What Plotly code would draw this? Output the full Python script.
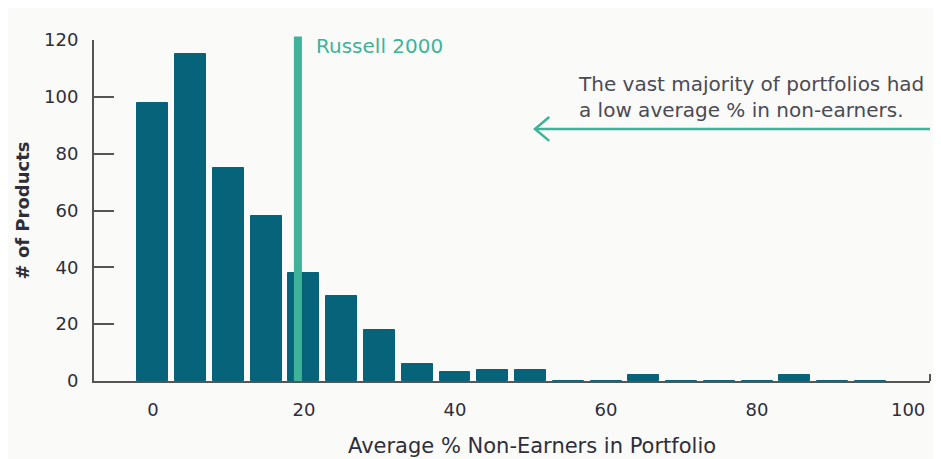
import plotly.graph_objects as go

# histogram bins (centre of each 5-point bin) and number of products
bin_centers = [0, 5, 10, 15, 20, 25, 30, 35, 40, 45, 50, 55, 60, 65, 70, 75, 80, 85, 90, 95]
counts = [98, 115, 75, 58, 38, 30, 18, 6, 3, 4, 4, 0, 0, 2, 0, 0, 0, 2, 0, 0]

russell_value = 19.2
y_ticks = [0, 20, 40, 60, 80, 100, 120]
x_ticks = [0, 20, 40, 60, 80, 100]

BAR = "#06637a"
GREEN = "#3fb39a"
TEXT = "#2e2e3a"
BG = "#fafaf8"
FONT = "DejaVu Sans, Arial, sans-serif"

fig = go.Figure()
fig.add_trace(go.Bar(
    x=bin_centers,
    y=counts,
    width=4.1,
    marker=dict(color=BAR, line=dict(color=BAR, width=1)),
    showlegend=False,
))

# Russell 2000 reference line
fig.add_shape(type="line", xref="x", yref="paper",
              x0=russell_value, x1=russell_value, y0=0, y1=1.01,
              line=dict(color=GREEN, width=8), layer="above")
fig.add_annotation(x=russell_value, xref="x", y=1.0, yref="paper",
                   text="Russell 2000", showarrow=False,
                   xanchor="left", yanchor="middle", xshift=16, yshift=-6,
                   font=dict(family=FONT, size=20, color=GREEN))

# callout text + left-pointing arrow
fig.add_annotation(x=0.577, xref="paper", y=100.0, yref="y",
                   text="The vast majority of portfolios had<br>a low average % in non-earners.",
                   showarrow=False, xanchor="left", yanchor="middle", align="left",
                   font=dict(family=FONT, size=20, color="#4a4a55"))
ax_tip, ax_tail, ay = 0.5275, 1.0, 88.7
fig.add_shape(type="line", xref="paper", yref="y",
              x0=ax_tip, x1=ax_tail, y0=ay, y1=ay,
              line=dict(color=GREEN, width=2.5))
fig.add_shape(type="path", xref="paper", yref="y",
              path=f"M {ax_tip + 0.017} {ay + 4.2} L {ax_tip} {ay} L {ax_tip + 0.017} {ay - 4.2}",
              line=dict(color=GREEN, width=2.5))

# small end tick on the right of the x axis
fig.add_shape(type="line", xref="paper", yref="y",
              x0=1.0, x1=1.0, y0=0, y1=2.5,
              line=dict(color="#555555", width=2))

# x axis title (placed as annotation, sits a bit right of centre)
fig.add_annotation(x=0.524, xref="paper", y=-0.19, yref="paper",
                   text="Average % Non-Earners in Portfolio", showarrow=False,
                   xanchor="center", yanchor="middle",
                   font=dict(family=FONT, size=21, color=TEXT))

fig.update_layout(
    width=933, height=451,
    paper_bgcolor=BG, plot_bgcolor=BG,
    margin=dict(l=86, r=11, t=32, b=78),
    font=dict(family=FONT, size=18, color=TEXT),
    bargap=0,
    xaxis=dict(
        range=[-7.8, 102.9], tickvals=x_ticks, showgrid=False, zeroline=False,
        showline=True, linecolor="#555555", linewidth=2, ticks="",
        ticklabelstandoff=11,
        tickfont=dict(size=18, color=TEXT),
    ),
    yaxis=dict(
        range=[0, 120], tickvals=y_ticks, showgrid=False, zeroline=False,
        showline=True, linecolor="#555555", linewidth=2,
        ticks="inside", ticklen=20, tickwidth=2, tickcolor="#555555",
        ticklabelstandoff=10,
        title=dict(text="<b># of Products</b>", standoff=10,
                   font=dict(size=18, color=TEXT)),
        tickfont=dict(size=18, color=TEXT),
    ),
)

fig.write_html("out.html")
